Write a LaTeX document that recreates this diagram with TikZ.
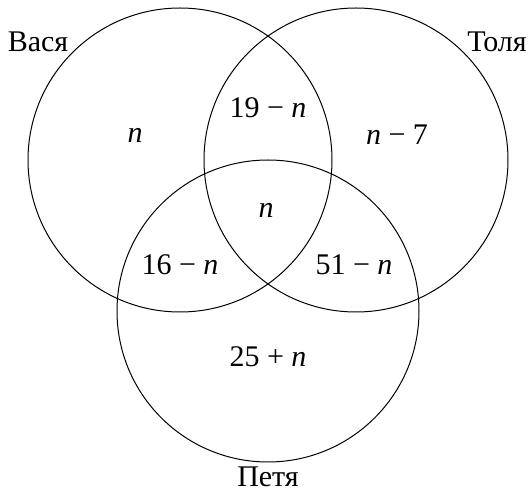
\documentclass[tikz,border=0pt]{standalone}
\usepackage{fontspec}
\setmainfont{Liberation Serif}
\begin{document}
\begin{tikzpicture}[x=1pt,y=-1pt,
  ring/.style={draw=black,line width=1pt},
  lbl/.style={font=\fontsize{30}{34}\selectfont,inner sep=0pt}]
\useasboundingbox (0,0) rectangle (531,494);
\draw[ring] (180,160) circle (152);
\draw[ring] (356,160) circle (152);
\draw[ring] (268,311) circle (151);
\node[lbl] (vasya) at (38,42) {Вася};
\node[lbl] (tolya) at (497,42) {Толя};
\node[lbl] (petya) at (268,477) {Петя};
\node[lbl] (a) at (135,135) {\textit{n}};
\node[lbl] (ab) at (268,108) {19 − \textit{n}};
\node[lbl] (b) at (397,135) {\textit{n} − 7};
\node[lbl] (abc) at (266,210) {\textit{n}};
\node[lbl] (ac) at (180,265) {16 − \textit{n}};
\node[lbl] (bc) at (354,265) {51 − \textit{n}};
\node[lbl] (c) at (268,357) {25 + \textit{n}};
\end{tikzpicture}
\end{document}
